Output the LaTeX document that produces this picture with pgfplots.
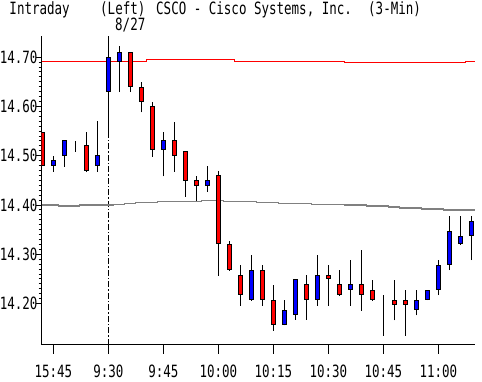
\documentclass[border=0pt]{standalone}
\usepackage{fontspec}
\setmainfont{DejaVu Sans Mono}[FakeStretch=0.74]
\usepackage{pgfplots}
\usepackage{pgfplotstable}
\pgfplotsset{compat=1.18}

\pgfplotstableread{
k open high low close
-6 14.548 14.548 14.480 14.480
-5 14.480 14.500 14.468 14.490
-4 14.500 14.530 14.478 14.530
-3 14.520 14.530 14.508 14.520
-2 14.520 14.548 14.467 14.470
-1 14.480 14.570 14.468 14.500
0 14.630 14.738 14.546 14.700
1 14.692 14.722 14.629 14.710
2 14.710 14.710 14.629 14.641
3 14.639 14.649 14.588 14.611
4 14.599 14.609 14.498 14.512
5 14.512 14.548 14.458 14.530
6 14.530 14.569 14.468 14.500
7 14.509 14.509 14.417 14.450
8 14.449 14.459 14.409 14.440
9 14.440 14.479 14.427 14.449
10 14.459 14.469 14.257 14.321
11 14.319 14.328 14.267 14.269
12 14.258 14.278 14.196 14.219
13 14.208 14.299 14.206 14.268
14 14.268 14.278 14.196 14.208
15 14.207 14.238 14.145 14.158
16 14.158 14.208 14.156 14.187
17 14.178 14.248 14.167 14.248
18 14.238 14.258 14.167 14.209
19 14.209 14.298 14.196 14.258
20 14.258 14.278 14.196 14.250
21 14.238 14.268 14.216 14.219
22 14.229 14.288 14.196 14.238
23 14.238 14.309 14.186 14.219
24 14.227 14.248 14.206 14.208
25 14.217 14.217 14.135 14.217
26 14.207 14.248 14.166 14.199
27 14.207 14.227 14.135 14.199
28 14.189 14.227 14.176 14.207
29 14.209 14.227 14.207 14.227
30 14.229 14.288 14.217 14.278
31 14.280 14.378 14.268 14.347
32 14.321 14.378 14.319 14.337
33 14.339 14.378 14.288 14.367
}\candles

\pgfplotstableread{
k v
-6.06 14.692
3.5 14.6945
11.5 14.692
21.5 14.690
32.5 14.692
33.33 14.692
}\redline

\pgfplotstableread{
k v
-6.06 14.400
-4.5 14.398
-2.6 14.400
0.5 14.402
1.5 14.404
2.5 14.406
4.5 14.408
8.5 14.410
10.5 14.408
13.5 14.406
15.5 14.404
18.5 14.402
21.5 14.400
23.5 14.398
25.5 14.396
26.5 14.394
28.5 14.392
30.5 14.390
33.33 14.390
}\grayline

\pgfplotsset{
  common/.style={
    at={(0,0)}, anchor=south west, scale only axis,
    width=433.3bp, height=309bp,
    xmin=-6.06, xmax=33.33, ymin=14.116, ymax=14.743,
  }
}

\begin{document}
\begin{tikzpicture}[font=\fontsize{16.9bp}{18bp}\selectfont]
\path[use as bounding box] (-41.7bp,-37bp) rectangle (440.3bp,345bp);
\begin{axis}[common,
  axis x line*=bottom, axis y line*=left,
  axis line style={black, line width=1bp},
  xtick={-5,0,5,10,15,20,25,30},
  xticklabels={15:45,9:30,9:45,10:00,10:15,10:30,10:45,11:00},
  ytick={14.2,14.3,14.4,14.5,14.6,14.7},
  minor y tick num=9,
  tick align=outside,
  major tick length=5.5bp, minor tick length=3bp,
  tick style={black, line width=1bp},
  xtick style={/pgfplots/major tick length=9bp},
  yticklabel style={/pgf/number format/fixed, /pgf/number format/fixed zerofill,
    /pgf/number format/precision=2, /pgf/number format/assume math mode=true,
    inner sep=0pt, anchor=east, xshift=1.5bp},
  xticklabel style={inner sep=0pt, anchor=base, yshift=-26.7bp},
]
\addplot[black, line width=1bp, dash pattern=on 6bp off 2bp on 1.5bp off 2bp] coordinates {(0,14.0) (0,15.0)};
\addplot[const plot, color={rgb,255:red,128;green,128;blue,128}, line width=1.1bp] table[x=k, y=v] {\grayline};
\addplot[const plot, red, line width=1bp] table[x=k, y=v] {\redline};
\addplot[draw=none, mark=none, error bars/.cd, y dir=plus, y explicit, error mark=none,
  error bar style={draw=black, solid, line width=1bp}]
  table[x=k, y=low, y error expr=\thisrow{high}-\thisrow{low}] {\candles};
\end{axis}
\begin{axis}[common, hide axis, clip=true, ybar stacked, bar width=0.36]
\addplot[draw=none, fill=none] table[x=k, y expr={min(\thisrow{open},\thisrow{close})}] {\candles};
\addplot[fill=blue, draw=black, line width=1bp] table[x=k, y expr={(\thisrow{close}>\thisrow{open}) ? (\thisrow{close}-\thisrow{open}) : 0}] {\candles};
\addplot[fill=red, draw=black, line width=1bp] table[x=k, y expr={(\thisrow{open}>\thisrow{close}) ? (\thisrow{open}-\thisrow{close}) : 0}] {\candles};
\end{axis}
\node[anchor=base west, inner sep=0pt] at (-32.4bp,330bp) {Intraday};
\node[anchor=base west, inner sep=0pt] at (58.3bp,330bp) {(Left)};
\node[anchor=base west, inner sep=0pt] at (114.3bp,330bp) {CSCO - Cisco Systems, Inc.};
\node[anchor=base west, inner sep=0pt] at (326.3bp,330bp) {(3-Min)};
\node[anchor=base west, inner sep=0pt] at (73.3bp,314bp) {8/27};
\end{tikzpicture}
\end{document}
